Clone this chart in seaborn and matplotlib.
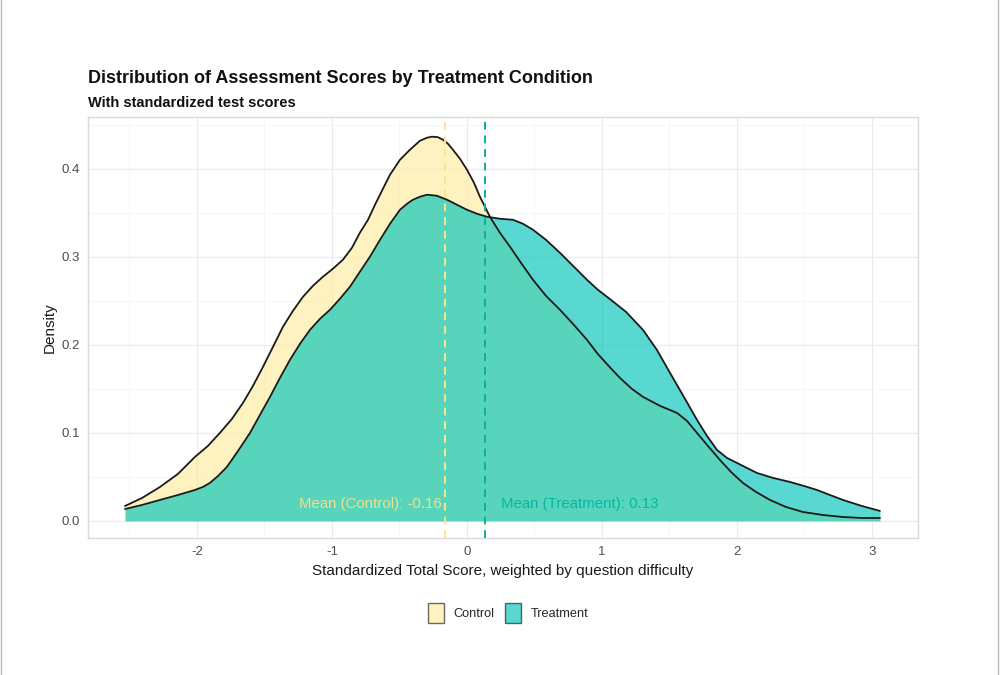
import matplotlib
matplotlib.use("Agg")
import matplotlib.pyplot as plt
import seaborn as sns
import pandas as pd
from matplotlib.patches import Patch
from matplotlib.lines import Line2D

# ---- data ----
control_x = [-2.533, -2.407, -2.274, -2.141, -2.015, -1.919, -1.830, -1.741, -1.659, -1.585,
             -1.511, -1.437, -1.363, -1.289, -1.215, -1.141, -1.067, -0.993, -0.919, -0.852,
             -0.793, -0.733, -0.681, -0.622, -0.570, -0.496, -0.422, -0.348, -0.296, -0.259,
             -0.215, -0.178, -0.141, -0.104, -0.052, 0.000, 0.052, 0.096, 0.170, 0.244,
             0.319, 0.400, 0.489, 0.585, 0.689, 0.785, 0.889, 0.970, 1.059, 1.133,
             1.222, 1.304, 1.430, 1.556, 1.630, 1.704, 1.785, 1.874, 1.956, 2.044,
             2.141, 2.244, 2.363, 2.489, 2.637, 2.785, 2.926, 3.059]
control_y = [0.0170, 0.0261, 0.0386, 0.0534, 0.0727, 0.0852, 0.1000, 0.1159, 0.1341, 0.1534,
             0.1750, 0.1977, 0.2205, 0.2386, 0.2545, 0.2670, 0.2773, 0.2864, 0.2966, 0.3102,
             0.3273, 0.3420, 0.3591, 0.3773, 0.3932, 0.4102, 0.4216, 0.4318, 0.4352, 0.4364,
             0.4358, 0.4330, 0.4284, 0.4216, 0.4114, 0.3989, 0.3841, 0.3682, 0.3455, 0.3273,
             0.3114, 0.2932, 0.2739, 0.2557, 0.2398, 0.2239, 0.2057, 0.1895, 0.1745, 0.1625,
             0.1500, 0.1409, 0.1307, 0.1227, 0.1136, 0.1000, 0.0852, 0.0693, 0.0557, 0.0432,
             0.0330, 0.0239, 0.0159, 0.0102, 0.0068, 0.0045, 0.0034, 0.0034]

treatment_x = [-2.533, -2.407, -2.274, -2.141, -2.015, -1.956, -1.904, -1.844, -1.778, -1.696,
               -1.607, -1.533, -1.459, -1.385, -1.311, -1.237, -1.163, -1.089, -1.015, -0.941,
               -0.867, -0.793, -0.719, -0.644, -0.570, -0.496, -0.444, -0.400, -0.348, -0.296,
               -0.222, -0.148, -0.074, 0.000, 0.074, 0.148, 0.244, 0.341, 0.415, 0.489,
               0.585, 0.689, 0.785, 0.889, 0.970, 1.059, 1.178, 1.304, 1.407, 1.504,
               1.607, 1.704, 1.778, 1.852, 1.926, 2.000, 2.074, 2.148, 2.267, 2.393,
               2.496, 2.593, 2.689, 2.785, 2.926, 3.059]
treatment_y = [0.0136, 0.0182, 0.0239, 0.0295, 0.0352, 0.0386, 0.0432, 0.0511, 0.0614, 0.0795,
               0.1000, 0.1205, 0.1409, 0.1625, 0.1830, 0.2011, 0.2170, 0.2295, 0.2398, 0.2523,
               0.2659, 0.2830, 0.3000, 0.3193, 0.3375, 0.3534, 0.3602, 0.3648, 0.3682, 0.3705,
               0.3693, 0.3648, 0.3591, 0.3534, 0.3489, 0.3455, 0.3432, 0.3420, 0.3375, 0.3307,
               0.3193, 0.3045, 0.2898, 0.2739, 0.2625, 0.2520, 0.2375, 0.2170, 0.1943, 0.1682,
               0.1409, 0.1148, 0.0966, 0.0807, 0.0716, 0.0659, 0.0602, 0.0545, 0.0489, 0.0443,
               0.0398, 0.0352, 0.0295, 0.0239, 0.0170, 0.0114]

groups = ["Control", "Treatment"]
means = [-0.16, 0.13]
x_ticks = [-2, -1, 0, 1, 2, 3]
y_ticks = [0.0, 0.1, 0.2, 0.3, 0.4]

fill_colors = {"Control": "#FFEBA0", "Treatment": "#00C4BA"}
mean_line_colors = {"Control": "#FFE38A", "Treatment": "#0AAFA3"}
mean_text_colors = {"Control": "#F3DE8A", "Treatment": "#00B8A2"}

df = pd.concat([
    pd.DataFrame({"score": control_x, "density": control_y, "group": "Control"}),
    pd.DataFrame({"score": treatment_x, "density": treatment_y, "group": "Treatment"}),
])

sns.set_theme(style="white")
plt.rcParams['font.family'] = ['Liberation Sans', 'DejaVu Sans']

fig = plt.figure(figsize=(10, 6.75), dpi=100)
ax = fig.add_axes([0.088, 0.203, 0.830, 0.624])

alpha = 0.65
for g in groups:
    sub = df[df.group == g]
    ax.fill_between(sub.score, 0, sub.density, color=fill_colors[g], alpha=alpha,
                    linewidth=0, zorder=2)
for g in groups:
    sub = df[df.group == g]
    sns.lineplot(data=sub, x="score", y="density", ax=ax, color="#1a1a1a",
                 linewidth=1.3, sort=False, estimator=None, zorder=3, legend=False,
                 solid_joinstyle="round", solid_capstyle="round")

for g, m in zip(groups, means):
    ax.axvline(m, color=mean_line_colors[g], linestyle=(0, (4, 3)), linewidth=1.4, zorder=4)

ax.text(means[0] - 0.03, 0.019, f"Mean (Control): {means[0]:.2f}", ha="right", va="center",
        fontsize=10.8, color=mean_text_colors["Control"], zorder=5)
ax.text(means[1] + 0.12, 0.019, f"Mean (Treatment): {means[1]:.2f}", ha="left", va="center",
        fontsize=10.8, color=mean_text_colors["Treatment"], zorder=5)

ax.set_xlim(-2.807, 3.341)
ax.set_ylim(-0.0193, 0.459)
ax.set_xticks(x_ticks)
ax.set_xticklabels([str(t) for t in x_ticks])
ax.set_yticks(y_ticks)
ax.set_yticklabels([f"{t:.1f}" for t in y_ticks])
ax.set_xticks([-2.5, -1.5, -0.5, 0.5, 1.5, 2.5], minor=True)
ax.set_yticks([0.05, 0.15, 0.25, 0.35, 0.45], minor=True)
ax.grid(which="major", color="#EBEBEB", linewidth=0.9, zorder=0)
ax.grid(which="minor", color="#F5F5F5", linewidth=0.6, zorder=0)
ax.set_axisbelow(True)
ax.tick_params(axis="both", which="major", labelsize=9.5, labelcolor="#4D4D4D",
               length=3, color="#CCCCCC", width=0.8, pad=3)
ax.tick_params(axis="both", which="minor", length=0)
for s in ax.spines.values():
    s.set_color("#D9D9D9")
    s.set_linewidth(1.0)

ax.set_xlabel("Standardized Total Score, weighted by question difficulty", fontsize=11,
              color="#1a1a1a", labelpad=4)
ax.set_ylabel("Density", fontsize=11, color="#1a1a1a", labelpad=3)

fig.text(0.088, 0.883, "Distribution of Assessment Scores by Treatment Condition",
         fontsize=13, fontweight="bold", color="#111111", ha="left", va="center")
fig.text(0.088, 0.848, "With standardized test scores", fontsize=10.5, fontweight="bold",
         color="#111111", ha="left", va="center")

handles = [Patch(facecolor=fill_colors[g], alpha=alpha, edgecolor="#1a1a1a", linewidth=1.0)
           for g in groups]
leg = fig.legend(handles, groups, loc="center", bbox_to_anchor=(0.508, 0.092), ncol=2,
                 frameon=False, fontsize=9.2, handlelength=1.25, handleheight=2.1,
                 columnspacing=0.9, handletextpad=0.7)

# thin frame lines at figure edges
fig.add_artist(Line2D([0.001, 0.001], [0, 1], transform=fig.transFigure, color="#BBBBBB", linewidth=1))
fig.add_artist(Line2D([0.998, 0.998], [0, 1], transform=fig.transFigure, color="#BBBBBB", linewidth=1))

fig.savefig("out.png", dpi=100)
